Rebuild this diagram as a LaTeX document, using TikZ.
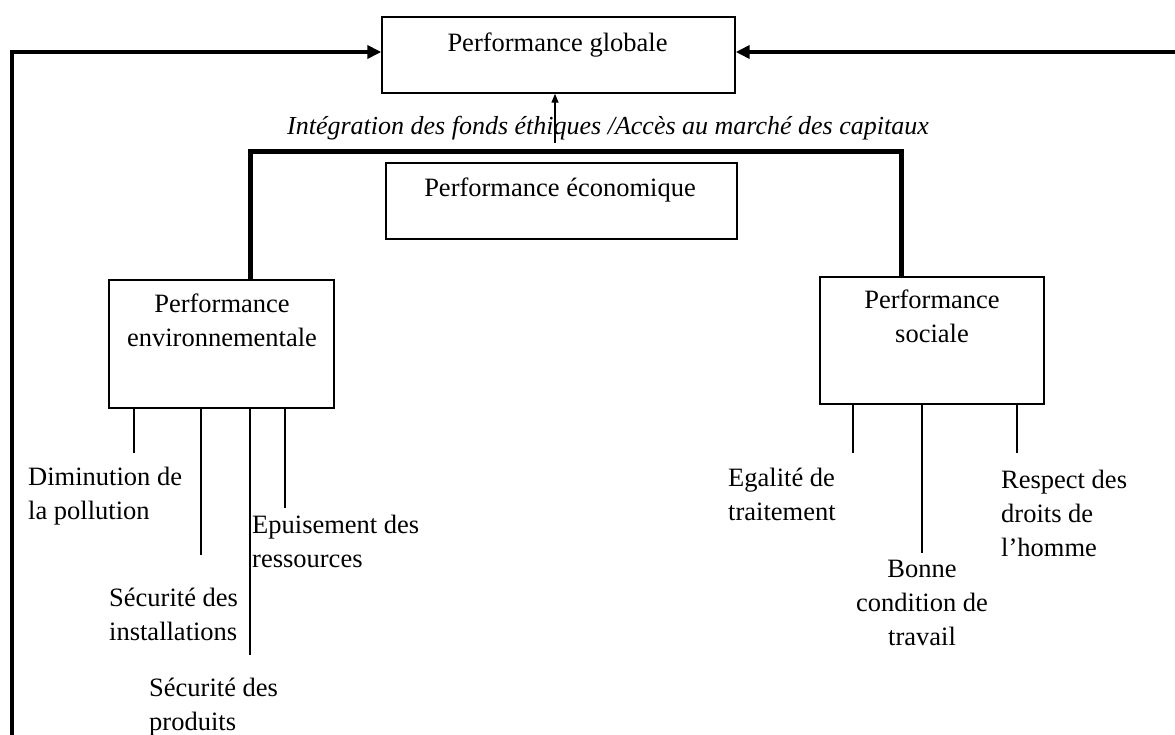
\documentclass[tikz,border=0pt]{standalone}
\usepackage{fontspec}
\setmainfont{Liberation Serif}
\usetikzlibrary{arrows.meta}
\begin{document}
\begin{tikzpicture}[x=1pt,y=-1pt,
  box/.style={draw,line width=1.4pt,inner sep=0pt,rectangle},
  txt/.style={inner sep=0pt,font=\fontsize{26.5}{34}\selectfont},
  itxt/.style={inner sep=0pt,font=\fontsize{26}{34}\selectfont\itshape},
  thin/.style={line width=1.4pt},
  bigarrow/.style={line width=4pt,-{Triangle[length=14pt,width=13pt]}},
  smallarrow/.style={line width=1.3pt,-{Triangle[length=9pt,width=7pt]}},
  bracket/.style={line width=5pt,line join=miter}]
\useasboundingbox (0,0) rectangle (1175,735);
% boxes
\node[box,minimum width=353pt,minimum height=76pt] (glob) at (558.5,55) {};
\node[box,minimum width=351pt,minimum height=76pt] (econ) at (561.5,201) {};
\node[box,minimum width=225pt,minimum height=128pt] (env) at (221.5,344) {};
\node[box,minimum width=224pt,minimum height=127pt] (soc) at (932,340.5) {};
% box texts
\node[txt,anchor=base] (globt) at (557.5,52) {Performance globale};
\node[txt,anchor=base] (econt) at (560,197) {Performance économique};
\node[txt,anchor=base,align=center] (envt) at (222,346) {Performance\\environnementale};
\node[txt,anchor=base,align=center] (soct) at (932,342) {Performance\\sociale};
% italic label
\node[itxt,anchor=base] (lab) at (608,135) {Intégration des fonds éthiques /Accès au marché des capitaux};
% coordinates
\coordinate (ay) at (0,52);
\coordinate (lb) at (12,745);
\coordinate (rb) at (1185,52);
\coordinate (sa) at (555,143);
\coordinate (btl) at (250,152);
\coordinate (btr) at (901,152);
% big arrows
\draw[bigarrow] (lb) |- (glob.west |- ay);
\draw[bigarrow] (rb) -- (glob.east |- ay);
\draw[smallarrow] (sa) -- (glob.south -| sa);
% bracket
\draw[bracket] (env.north -| btl) |- (btr) -- (soc.north -| btr);
% env branches
\coordinate (e1) at (134,453);
\coordinate (e2) at (201,555);
\coordinate (e3) at (250,655);
\coordinate (e4) at (285,508);
\foreach \c in {e1,e2,e3,e4} \draw[thin] (env.south -| \c) -- (\c);
% social branches
\coordinate (s1) at (853,453);
\coordinate (s2) at (922,553);
\coordinate (s3) at (1017,453);
\foreach \c in {s1,s2,s3} \draw[thin] (soc.south -| \c) -- (\c);
% env labels (anchor = baseline of last line)
\node[txt,anchor=base west,align=left] (l1) at (28,519) {Diminution de\\la pollution};
\node[txt,anchor=base west,align=left] (l2) at (109,640) {Sécurité des\\installations};
\node[txt,anchor=base west,align=left] (l3) at (252,567) {Epuisement des\\ressources};
\node[txt,anchor=base west,align=left] (l4) at (149,730) {Sécurité des\\produits};
% social labels
\node[txt,anchor=base west,align=left] (r1) at (728,520) {Egalité de\\traitement};
\node[txt,anchor=base,align=center] (r2) at (922,645) {Bonne\\condition de\\travail};
\node[txt,anchor=base west,align=left] (r3) at (1001,556) {Respect des\\droits de\\l’homme};
\end{tikzpicture}
\end{document}
